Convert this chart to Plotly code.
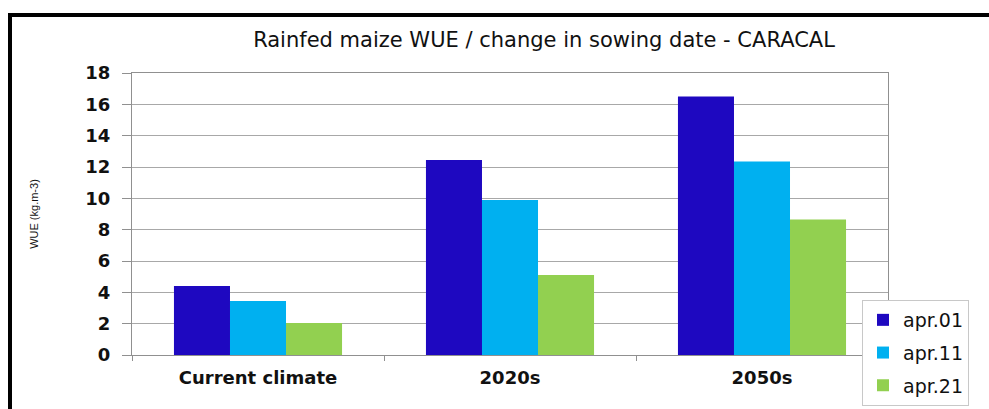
import plotly.graph_objects as go

# WUE values per climate period and sowing date
periods = ["Current climate", "2020s", "2050s"]
sowing_dates = ["apr.01", "apr.11", "apr.21"]
wue_apr01 = [4.4, 12.45, 16.5]
wue_apr11 = [3.45, 9.9, 12.35]
wue_apr21 = [2.05, 5.1, 8.65]
colors = ["#1E08C0", "#00B0F0", "#92D050"]

series = [wue_apr01, wue_apr11, wue_apr21]

fig = go.Figure()
for i, (name, vals, col) in enumerate(zip(sowing_dates, series, colors)):
    fig.add_trace(go.Bar(
        x=periods, y=vals, name=name, legendgroup=name,
        marker=dict(color=col, line=dict(width=0)),
    ))

W, H = 989, 409
L, R, T, B = 132, 101, 73, 54
pw, ph = W - L - R, H - T - B

def px_x(p):
    return (p - L) / pw

def px_y(p):
    return (H - B - p) / ph

fig.update_layout(
    width=W, height=H,
    margin=dict(l=L, r=R, t=T, b=B, pad=0, autoexpand=False),
    paper_bgcolor="white", plot_bgcolor="white",
    barmode="group", bargap=0.333, bargroupgap=0,
    title=dict(
        text="Rainfed maize WUE / change in sowing date - CARACAL",
        x=544 / W, xanchor="center", y=1 - 40 / H, yanchor="middle",
        font=dict(family="DejaVu Sans", size=21, color="#111111"),
    ),
    legend=dict(
        x=px_x(862), y=px_y(300), xanchor="left", yanchor="top",
        bordercolor="#C8C8C8", borderwidth=1, bgcolor="white",
        font=dict(family="DejaVu Sans", size=19, color="#111111"),
        traceorder="grouped", tracegroupgap=5,
    ),
    xaxis=dict(
        type="category", showline=True, linecolor="#909090", linewidth=1,
        mirror=True, ticks="outside", ticklen=5, tickcolor="#909090",
        tickson="boundaries", showgrid=False, automargin=False,
        tickfont=dict(family="DejaVu Sans", size=18, color="#111111", weight="bold"),
        ticklabelstandoff=6,
    ),
    yaxis=dict(
        range=[0, 18], dtick=2, showline=True, linecolor="#909090", linewidth=1,
        mirror=True, ticks="outside", ticklen=9, tickcolor="#909090",
        showgrid=True, gridcolor="#A8A8A8", gridwidth=1, zeroline=False,
        automargin=False,
        tickfont=dict(family="DejaVu Sans", size=18, color="#111111", weight="bold"),
        ticklabelstandoff=8,
        title=dict(text="WUE (kg.m-3)", standoff=44,
                   font=dict(family="Liberation Sans", size=11, color="#111111")),
    ),
    shapes=[
        # outer black frame: left and top edges
        dict(type="line", xref="paper", yref="paper",
             x0=px_x(10), x1=px_x(10), y0=px_y(14), y1=px_y(420),
             line=dict(color="black", width=4)),
        dict(type="line", xref="paper", yref="paper",
             x0=px_x(8), x1=px_x(1000), y0=px_y(15), y1=px_y(15),
             line=dict(color="black", width=4)),
    ],
)

fig.write_html("out.html")
